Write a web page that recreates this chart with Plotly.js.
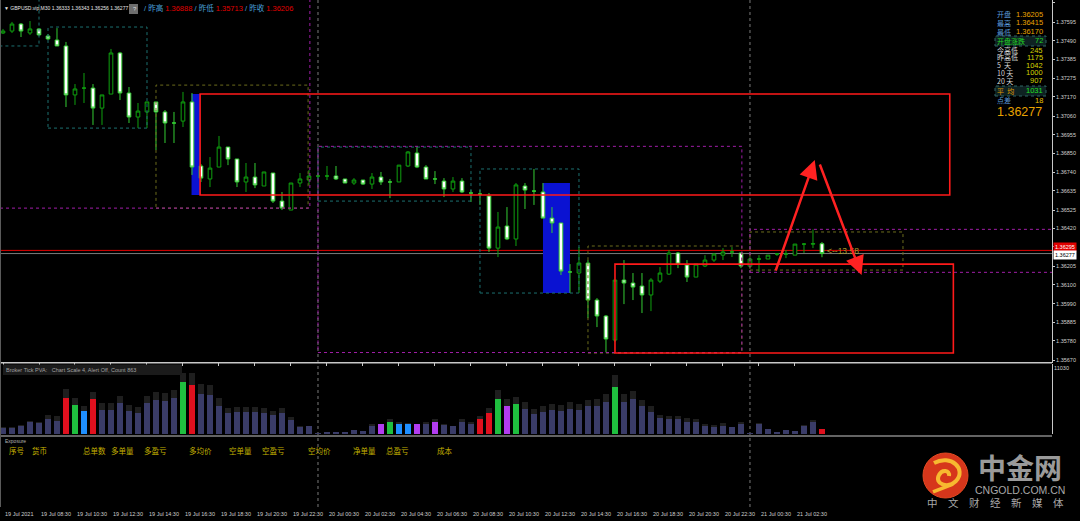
<!DOCTYPE html>
<html><head><meta charset="utf-8">
<script src="https://cdn.plot.ly/plotly-3.0.1.min.js"></script>
<style>html,body{margin:0;padding:0;background:#000;}#chart{width:1080px;height:521px;}</style>
</head><body><div id="chart"></div>
<script>
// ---------- DATA ----------
const openP = [1.37534,1.37545,1.37585,1.37534,1.37557,1.37517,1.37494,1.37460,1.37181,1.37220,
1.37220,1.37106,1.37186,1.37420,1.37192,1.37055,1.37084,1.37141,1.37084,1.37021,
1.37032,1.37141,1.36776,1.36702,1.36770,1.36884,1.36816,1.36685,1.36713,1.36662,
1.36736,1.36576,1.36525,1.36679,1.36696,1.36719,1.36719,1.36719,1.36702,1.36679,
1.36696,1.36673,1.36713,1.36685,1.36685,1.36776,1.36850,1.36770,1.36702,1.36690,
1.36645,1.36690,1.36622,1.36616,1.36605,1.36308,1.36434,1.36360,1.36662,1.36633,
1.36628,1.36479,1.36451,1.36172,1.36166,1.36223,1.36012,1.35921,1.35784,1.36126,
1.36109,1.36092,1.36041,1.36120,1.36160,1.36280,1.36212,1.36143,1.36206,1.36240,
1.36268,1.36286,1.36280,1.36205,1.36246,1.36246,1.36274,1.36274,1.36268,1.36331,
1.36331,1.36333];
const highP = [1.37557,1.37597,1.37591,1.37602,1.37562,1.37528,1.37562,1.37483,1.37243,1.37306,
1.37243,1.37181,1.37443,1.37426,1.37226,1.37135,1.37141,1.37141,1.37095,1.37084,
1.37198,1.37192,1.36787,1.36827,1.36947,1.36884,1.36816,1.36793,1.36793,1.36742,
1.36736,1.36628,1.36679,1.36736,1.36753,1.36736,1.36776,1.36776,1.36702,1.36707,
1.36696,1.36736,1.36742,1.36702,1.36781,1.36861,1.36888,1.36781,1.36747,1.36707,
1.36713,1.36707,1.36639,1.36639,1.36622,1.36514,1.36542,1.36679,1.36679,1.36759,
1.36679,1.36542,1.36451,1.36217,1.36314,1.36240,1.36023,1.35927,1.36126,1.36240,
1.36166,1.36166,1.36137,1.36200,1.36297,1.36286,1.36240,1.36217,1.36268,1.36280,
1.36308,1.36314,1.36286,1.36257,1.36268,1.36268,1.36280,1.36297,1.36331,1.36337,
1.36415,1.36343];
const lowP = [1.37528,1.37534,1.37511,1.37523,1.37517,1.37494,1.37460,1.37112,1.37124,1.37135,
1.37010,1.37010,1.37186,1.37152,1.37021,1.36992,1.36992,1.36867,1.36907,1.36907,
1.36998,1.36725,1.36685,1.36656,1.36770,1.36781,1.36656,1.36628,1.36650,1.36662,
1.36565,1.36525,1.36525,1.36656,1.36668,1.36702,1.36696,1.36696,1.36679,1.36668,
1.36668,1.36645,1.36668,1.36593,1.36685,1.36770,1.36764,1.36702,1.36673,1.36599,
1.36628,1.36622,1.36571,1.36554,1.36286,1.36257,1.36354,1.36320,1.36531,1.36554,
1.36479,1.36394,1.36155,1.36052,1.36052,1.35909,1.35858,1.35713,1.35773,1.35989,
1.36012,1.35938,1.35949,1.36109,1.36155,1.36194,1.36115,1.36143,1.36200,1.36229,
1.36240,1.36257,1.36194,1.36194,1.36170,1.36246,1.36263,1.36251,1.36268,1.36280,
1.36308,1.36256];
const closeP = [1.37545,1.37585,1.37545,1.37557,1.37523,1.37500,1.37460,1.37181,1.37215,1.37220,
1.37106,1.37181,1.37420,1.37192,1.37055,1.37089,1.37141,1.37084,1.37021,1.37021,
1.37141,1.36770,1.36707,1.36764,1.36884,1.36816,1.36685,1.36713,1.36668,1.36742,
1.36576,1.36536,1.36679,1.36702,1.36719,1.36719,1.36719,1.36702,1.36679,1.36696,
1.36673,1.36713,1.36685,1.36685,1.36781,1.36856,1.36770,1.36702,1.36702,1.36645,
1.36690,1.36628,1.36622,1.36616,1.36308,1.36428,1.36360,1.36668,1.36639,1.36633,
1.36479,1.36451,1.36177,1.36172,1.36223,1.36012,1.35921,1.35790,1.36126,1.36109,
1.36086,1.36041,1.36126,1.36166,1.36280,1.36217,1.36143,1.36217,1.36240,1.36274,
1.36286,1.36286,1.36206,1.36246,1.36246,1.36268,1.36274,1.36274,1.36331,1.36331,
1.36333,1.36277];
const tickVolume = [1050,1050,1340,2050,1840,2500,2220,6010,4840,3840,
5850,4010,4010,5180,3840,3510,5180,5680,5510,6010,
8680,8180,6680,6510,4680,3510,3670,3670,3670,3510,
3170,3510,2340,1170,1340,170,330,330,330,670,
500,1390,1670,2000,1670,1670,1670,1670,2000,1500,
1340,2000,1670,2500,3510,5850,4730,5010,4180,3340,
3720,4010,3840,4180,4010,4680,4680,5340,7850,5340,
5850,4680,3670,2670,2500,2500,2000,2000,1340,1170,
1340,1170,1670,170,1670,835,330,670,500,1340,
2000,835];
const tickVolumeCap = [1150,1150,1500,2170,2000,3170,3000,7520,6010,4680,
7010,5180,5180,6350,4840,4510,6350,7010,6850,7350,
10190,10190,8350,8180,6010,4340,4510,4510,4510,4340,
3840,4340,2840,1340,1340,170,330,330,330,670,
500,1720,1670,2500,1950,1840,1670,1950,2450,1750,
1340,2500,2050,3010,4340,7350,5850,6180,5340,4180,
4680,5010,4840,5340,5010,5680,5850,6680,9850,6680,
7180,5680,4680,3170,3010,3010,2670,2500,1670,1500,
1840,1170,2000,170,1800,835,330,670,500,1500,
2340,835];
// volume bar type: n normal, r red, g green, b blue, p purple
const volumeType = "nnnnnnnrgbrnnnnnnnnngrnnnnnnnnnnnnnnnnnnnnpgbbpnpnnnnrrgpgnnnnnnnnnngnnnnnnnnnnnnnnnnnnnnnnrn".split("");

const timeLabelBars = [1,5,9,13,17,21,25,29,33,37,41,45,49,53,57,61,65,69,73,77,81,85,89];
const timeLabels = ["19 Jul 2021","19 Jul 08:30","19 Jul 10:30","19 Jul 12:30","19 Jul 14:30","19 Jul 16:30",
"19 Jul 18:30","19 Jul 20:30","19 Jul 22:30","20 Jul 00:30","20 Jul 02:30","20 Jul 04:30","20 Jul 06:30",
"20 Jul 08:30","20 Jul 10:30","20 Jul 12:30","20 Jul 14:30","20 Jul 16:30","20 Jul 18:30","20 Jul 20:30",
"20 Jul 22:30","21 Jul 00:30","21 Jul 02:30"];
const priceTicks = [1.37705,1.37595,1.37490,1.37385,1.37275,1.37170,1.37060,1.36955,1.36850,1.36740,
1.36635,1.36525,1.36420,1.36315,1.36205,1.36100,1.35990,1.35885,1.35780,1.35670];
const volumeTick = 11030;
const bidPrice = 1.36277, askPrice = 1.36295;
const daySeparatorBars = [36, 84];

// drawn objects (bar index / price)
const redZones = [[22.9,106.2,1.36611,1.37186],[69,106.6,1.35710,1.36217]];
const blueZones = [[21.95,22.9,1.36611,1.37186],[61,64,1.36052,1.36679]];
const tealBoxes = [[0.6,5,1.37460,1.3800],[6,17,1.36992,1.37568],[36,53,1.36576,1.36884],[54,65,1.36052,1.36759]];
const oliveBoxes = [[18,34.9,1.36536,1.37237],[66,83.1,1.35710,1.36320],[84,101,1.36183,1.36400]];
const dayBoxes = [[-2,35.1,1.36536,1.3800],[36,83.1,1.35713,1.36888],[84,125,1.36170,1.36415]];
const arrowLines = [[86.8,1.36172,91.2,1.36810],[91.7,1.36793,96.4,1.36155]];
const countdownText = "<--13.58";

const headerInfo = "▼ GBPUSD.vip,M30 1.36333 1.36343 1.36256 1.36277";
const prevDay = [["昨高","1.36888"],["昨低","1.35713"],["昨收","1.36206"]];
const infoLabels = ["开盘","最高","最低","开盘涨跌","今高低","昨高低","5  天","10 天","20 天","平  均","点差"];
const infoValues = ["1.36205","1.36415","1.36170","72","245","1175","1042","1000","907","1031","18"];
const bigPrice = "1.36277";
const exposureCols = ["序号","货币","总单数","多单量","多盈亏","多均价","空单量","空盈亏","空均价","净单量","总盈亏","成本"];
const pvaText = "Broker Tick PVA:   Chart Scale 4, Alert Off, Count 863";

// ---------- LAYOUT HELPERS ----------
const W = 1052, H = 507;
const px = x => x / W;
const py = y => 1 - y / H;
const bars = openP.map((_, i) => i + 1);
const FONT = "Liberation Sans, Noto Sans CJK SC, sans-serif";
const CJK = "Noto Sans CJK SC, Liberation Sans, sans-serif";

const volColorMap = {n:'#3a3c68', r:'#e0101e', g:'#1fbf3f', b:'#1e8fff', p:'#b23cf0'};

const traces = [
  {type:'candlestick', x:bars, open:openP, high:highP, low:lowP, close:closeP,
   xaxis:'x', yaxis:'y', whiskerwidth:0, line:{width:1},
   increasing:{line:{color:'#0fa00f', width:1}, fillcolor:'#000000'},
   decreasing:{line:{color:'#33cc33', width:1}, fillcolor:'#ffffff'},
   hoverinfo:'skip', showlegend:false},
  {type:'bar', x:bars, y:tickVolumeCap, xaxis:'x', yaxis:'y2', width:0.62,
   marker:{color:'#1e1e1e', line:{width:0}}, hoverinfo:'skip', showlegend:false},
  {type:'bar', x:bars, y:tickVolume, xaxis:'x', yaxis:'y2', width:0.62,
   marker:{color:volumeType.map(t => volColorMap[t]), line:{width:0}}, hoverinfo:'skip', showlegend:false}
];

const shapes = [];
function box(b, color, dash, width, fill, layer) {
  shapes.push({type:'rect', xref:'x', yref:'y', x0:b[0], x1:b[1], y0:b[2], y1:b[3],
    line:{color:color, width:width, dash:dash}, fillcolor:fill || 'rgba(0,0,0,0)', layer:layer || 'above'});
}
blueZones.forEach(b => box(b, 'rgba(0,0,0,0)', 'solid', 0, '#0a12d2', 'below'));
shapes.push({type:'line', xref:'paper', yref:'y', x0:0, x1:1, y0:askPrice, y1:askPrice, line:{color:'#e00000', width:1}, layer:'below'});
shapes.push({type:'line', xref:'paper', yref:'y', x0:0, x1:1, y0:bidPrice, y1:bidPrice, line:{color:'#7a7a7a', width:1}, layer:'below'});
tealBoxes.forEach(b => box(b, '#1c7070', 'dot', 1));
oliveBoxes.forEach(b => box(b, '#6c6c1c', 'dot', 1));
dayBoxes.forEach(b => box(b, '#a01ea8', 'dot', 1));
redZones.forEach(b => box(b, '#ff1a1a', 'solid', 1.6));
daySeparatorBars.forEach(k => shapes.push({type:'line', xref:'x', yref:'paper', x0:k, x1:k, y0:0, y1:1,
  line:{color:'#7a7a7a', width:1, dash:'dot'}, layer:'below'}));
[363, 436].forEach(y => shapes.push({type:'line', xref:'paper', yref:'paper', x0:0, x1:1, y0:py(y), y1:py(y), line:{color:'#c8c8c8', width:1}}));
shapes.push({type:'line', xref:'paper', yref:'paper', x0:px(0.5), x1:px(0.5), y0:0, y1:1, line:{color:'#5a5a5a', width:1}});
shapes.push({type:'rect', xref:'paper', yref:'paper', x0:px(3), x1:px(182), y0:py(375), y1:py(364.5), fillcolor:'#1b1b1b', line:{width:0}});
shapes.push({type:'rect', xref:'paper', yref:'paper', x0:px(129), x1:px(138), y0:py(14), y1:py(4), fillcolor:'#6e6e6e', line:{width:0}});
[[36,46],[86,96]].forEach(r => shapes.push({type:'rect', xref:'paper', yref:'paper', x0:px(995), x1:px(1046),
  y0:py(r[1]), y1:py(r[0]), fillcolor:'#0e2222', line:{color:'#2f6464', width:1, dash:'dot'}}));
shapes.push({type:'circle', xref:'paper', yref:'paper', x0:px(923), x1:px(968), y0:py(498), y1:py(453),
  fillcolor:'#d6361b', line:{color:'#e24a22', width:1}});
function pathPx(cmds) {
  return cmds.map(c => {
    const pts = [];
    for (let i = 1; i < c.length; i += 2) pts.push(px(c[i]).toFixed(5) + ',' + py(c[i + 1]).toFixed(5));
    return c[0] + ' ' + pts.join(' ');
  }).join(' ');
}
shapes.push({type:'path', xref:'paper', yref:'paper',
  path: pathPx([['M',934,463],['C',951,454,967,469,956,481],['C',948,489,934,484,939,475],['C',942,469,950,470,949,476]]),
  line:{color:'#f7b930', width:4}});
shapes.push({type:'path', xref:'paper', yref:'paper',
  path: pathPx([['M',953,484],['L',933,492]]), line:{color:'#f7b930', width:3.5}});

const ann = [];
function txt(x, y, text, size, color, anchor, family, extra) {
  ann.push(Object.assign({xref:'paper', yref:'paper', x:px(x), y:py(y), text:text, showarrow:false,
    xanchor:anchor || 'left', yanchor:'middle', font:{size:size, color:color, family:family || FONT}, borderpad:0}, extra || {}));
}
txt(3, 8, headerInfo, 5, '#e8e8e8');
txt(131.5, 9, '?', 6, '#dddddd');
txt(143, 8.5, prevDay.map(p => '<span style="color:#4aa0dc">/ ' + p[0] + ' </span><span style="color:#e00000">' + p[1] + '</span>').join(' '), 7.5, '#4aa0dc', 'left', FONT);
const labelColors = ['#5b9ad8','#5b9ad8','#5b9ad8','#22d422','#d8d8d8','#d8d8d8','#d8d8d8','#d8d8d8','#d8d8d8','#e09a00','#5b9ad8'];
const valueColors = ['#e8a200','#e8a200','#e8a200','#22d422','#d4d400','#d4d400','#d4d400','#d4d400','#d4d400','#22e022','#e8c000'];
const infoRowY = [14,22.7,31.7,40.7,50,57.3,65,72.7,80.7,90.7,100];
infoLabels.forEach((l, i) => {
  txt(996, infoRowY[i], l, 7, labelColors[i], 'left', CJK);
  txt(1044, infoRowY[i], infoValues[i], 7.5, valueColors[i], 'right', FONT);
});
txt(996, 112, bigPrice, 12.5, '#e8a200', 'left', FONT);
txt(5, 369.5, pvaText, 5.5, '#a0a0a0');
txt(4, 441, 'Exposure', 5, '#b0b0b0');
const exposureX = [8,31,82,110,143,188,228,261,307,352,385,436];
exposureCols.forEach((c, i) => txt(exposureX[i], 450, c, 7.5, '#c2b000', 'left', CJK));
timeLabels.forEach((t, i) => ann.push({xref:'x', yref:'paper', x:timeLabelBars[i], y:py(513.5), text:t, showarrow:false,
  xanchor:'left', yanchor:'middle', xshift:1, font:{size:5.5, color:'#cfcfcf', family:FONT}, borderpad:0}));
ann.push({xref:'x', yref:'y', x:92.3, y:1.36290, text:countdownText, showarrow:false, xanchor:'left', yanchor:'middle',
  font:{size:8.5, color:'#a89a2a', family:FONT}});
arrowLines.forEach(a => ann.push({xref:'x', yref:'y', axref:'x', ayref:'y', ax:a[0], ay:a[1], x:a[2], y:a[3], text:'',
  showarrow:true, arrowhead:2, arrowsize:1.5, arrowwidth:2.5, arrowcolor:'#ff2222', standoff:0}));
ann.push({xref:'paper', yref:'y', x:px(1053), y:askPrice, text:askPrice.toFixed(5), showarrow:false, xanchor:'left', yanchor:'bottom',
  yshift:-2, bgcolor:'#e00000', font:{size:5.5, color:'#ffffff', family:FONT}, borderpad:1});
ann.push({xref:'paper', yref:'y', x:px(1053), y:bidPrice, text:bidPrice.toFixed(5), showarrow:false, xanchor:'left', yanchor:'middle',
  yshift:-1, bgcolor:'#ffffff', font:{size:5.5, color:'#000000', family:FONT}, borderpad:1});
txt(1020, 467, '<b>中金网</b>', 28, '#9a9a9a', 'center', CJK);
txt(1020, 490, 'CNGOLD.COM.CN', 10.5, '#a8a8a8', 'center', FONT);
txt(995, 502, '中　文　财　经　新　媒　体', 10.5, '#a8a8a8', 'center', CJK);

const layout = {
  width:1080, height:521,
  margin:{l:0, r:28, t:0, b:14, pad:0},
  paper_bgcolor:'#000000', plot_bgcolor:'#000000',
  showlegend:false, barmode:'overlay', boxgap:0.42, bargap:0,
  font:{family:FONT, color:'#d0d0d0'},
  xaxis:{range:[0.667, 117.56], anchor:'y3', showgrid:false, zeroline:false, showline:true, linecolor:'#c8c8c8', linewidth:1,
    ticks:'outside', ticklen:3, tickcolor:'#c8c8c8', tickvals:timeLabelBars, showticklabels:false,
    rangeslider:{visible:false}, fixedrange:true},
  yaxis:{domain:[py(362), 1], range:[1.35659, 1.37722], side:'right', showgrid:false, zeroline:false,
    showline:true, linecolor:'#c8c8c8', linewidth:1, ticks:'outside', ticklen:2, tickcolor:'#c8c8c8',
    tickvals:priceTicks, ticktext:priceTicks.map(v => v.toFixed(5)), tickfont:{size:5.5, color:'#d0d0d0', family:FONT}, fixedrange:true},
  yaxis2:{domain:[py(434), py(364)], range:[0, 11700], side:'right', anchor:'x', showgrid:false, zeroline:false,
    showline:true, linecolor:'#c8c8c8', linewidth:1, ticks:'', tickvals:[volumeTick], ticktext:[String(volumeTick)],
    tickfont:{size:5.5, color:'#d0d0d0', family:FONT}, fixedrange:true},
  yaxis3:{domain:[0, py(437)], range:[0,1], side:'right', anchor:'x', showgrid:false, zeroline:false,
    showline:true, linecolor:'#c8c8c8', linewidth:1, showticklabels:false, ticks:'', fixedrange:true},
  shapes:shapes, annotations:ann
};
Plotly.newPlot('chart', traces, layout, {staticPlot:true, displayModeBar:false});
</script></body></html>
